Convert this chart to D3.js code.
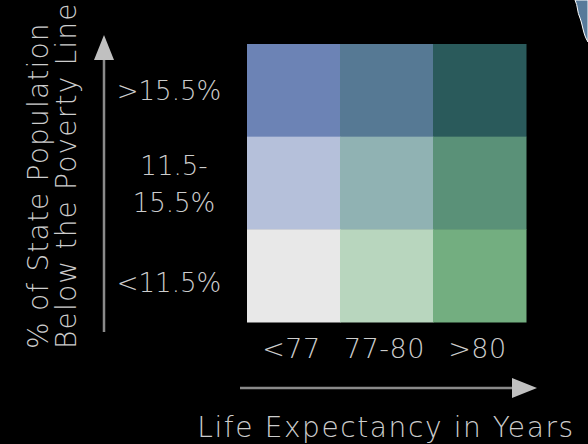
<!DOCTYPE html>
<html>
<head>
<meta charset="utf-8">
<script src="https://cdn.jsdelivr.net/npm/d3@7"></script>
<style>
  html, body { margin: 0; padding: 0; background: #000; }
  svg { display: block; }
  text { font-family: "DejaVu Sans", sans-serif; font-weight: 200; fill: #cdcdcd; }
</style>
</head>
<body>
<svg id="legend"></svg>
<script>
// life expectancy classes (x) and poverty classes (y, top to bottom)
const lifeClasses = ["<77", "77-80", ">80"];
const povertyClasses = [">15.5%", "11.5-15.5%", "<11.5%"];
const povertyLines = [[">15.5%"], ["11.5-", "15.5%"], ["<11.5%"]];
// bivariate colours, row by row from the top
const cellColors = [
    ["#6c83b5", "#567994", "#2a5a5b"],
    ["#b5c0da", "#90b2b3", "#5a9178"],
    ["#e8e8e8", "#b8d6be", "#73ae80"]
];
const xTitle = "Life Expectancy in Years";
const yTitle = ["% of State Population", "Below the Poverty Line"];

const w = 588, h = 444;
let svg = d3.select("#legend").attr("width", w).attr("height", h);

let x = d3.scaleBand().domain(lifeClasses).range([247, 526]);
let y = d3.scaleBand().domain(povertyClasses).range([44, 322]);

// piece of the map sticking in at the top right
svg.append("path")
    .attr("d", "M575,0 C578,6 577,12 580,18 C583,26 583,34 588,42 L588,0 Z")
    .attr("fill", "#577a9a")
    .attr("stroke", "#ffffff")
    .attr("stroke-width", 1);

// cells
let cells = [];
povertyClasses.forEach((p, i) => {
    lifeClasses.forEach((l, j) => {
        cells.push({ p: p, l: l, color: cellColors[i][j] });
    });
});
svg.selectAll("rect.cell")
    .data(cells)
    .enter()
    .append("rect")
        .attr("class", "cell")
        .attr("x", d => x(d.l))
        .attr("y", d => y(d.p))
        .attr("width", x.bandwidth() + 0.5)
        .attr("height", y.bandwidth() + 0.5)
        .attr("fill", d => d.color);

// x labels
svg.selectAll("text.xlab")
    .data(lifeClasses)
    .enter()
    .append("text")
        .attr("class", "xlab")
        .attr("x", d => x(d) + x.bandwidth() / 2 - 2)
        .attr("y", 358)
        .attr("text-anchor", "middle")
        .attr("font-size", 27)
        .attr("letter-spacing", 0.5)
        .text(d => d);

// y labels
let ylab = svg.selectAll("text.ylab")
    .data(povertyClasses)
    .enter()
    .append("text")
        .attr("class", "ylab")
        .attr("text-anchor", "middle")
        .attr("font-size", 26);
ylab.each(function (d, i) {
    let lines = povertyLines[i];
    let mid = y(d) + y.bandwidth() / 2 + (i == 2 ? 6 : 0);
    let first = mid + 10 - (lines.length - 1) * 18;
    d3.select(this).selectAll("tspan")
        .data(lines)
        .enter()
        .append("tspan")
            .attr("x", (t, k) => lines.length > 1 ? 174 : 169)
            .attr("y", (t, k) => first + k * 37)
            .text(t => t);
});

// arrows
svg.append("line")
    .attr("x1", 104).attr("y1", 332).attr("x2", 104).attr("y2", 58)
    .attr("stroke", "#8a8a8a").attr("stroke-width", 2.5);
svg.append("path")
    .attr("d", "M104,35 L114,60 L94,60 Z")
    .attr("fill", "#c0c0c0");
svg.append("line")
    .attr("x1", 240).attr("y1", 388).attr("x2", 515).attr("y2", 388)
    .attr("stroke", "#8a8a8a").attr("stroke-width", 2.5);
svg.append("path")
    .attr("d", "M537,388 L512,378 L512,398 Z")
    .attr("fill", "#c0c0c0");

// titles
svg.append("text")
    .attr("x", 386)
    .attr("y", 437)
    .attr("text-anchor", "middle")
    .attr("font-size", 28)
    .attr("letter-spacing", 1.6)
    .text(xTitle);

svg.append("text")
    .attr("transform", "translate(48,349) rotate(-90)")
    .attr("font-size", 28)
    .attr("letter-spacing", 1.2)
    .selectAll("tspan")
    .data(yTitle)
    .enter()
    .append("tspan")
        .attr("x", 0)
        .attr("dy", (d, i) => i == 0 ? 0 : 28)
        .text(d => d);
</script>
</body>
</html>
